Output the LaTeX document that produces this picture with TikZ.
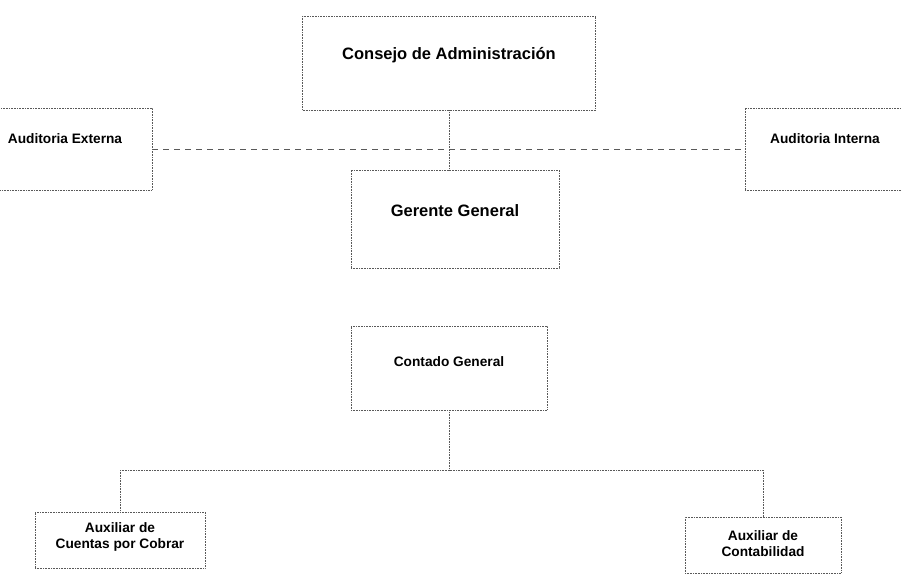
\documentclass[tikz,border=0pt]{standalone}
\usepackage{fontspec}
\setmainfont{Liberation Sans}
\begin{document}
\begin{tikzpicture}[x=1pt,y=-1pt,
  every node/.style={draw=black!65, densely dotted, line width=0.6pt, align=center, inner sep=0pt},
  big/.style={font=\fontsize{16.5}{20}\selectfont\bfseries, text height=12pt},
  small/.style={font=\fontsize{13.7}{16}\selectfont\bfseries, text height=9.8pt},
  link/.style={draw=black!65, densely dotted, line width=0.6pt}]
\useasboundingbox (0,0) rectangle (902,579);
\clip (0,0) rectangle (902,579);
\node[big, minimum width=293pt, minimum height=94pt, text depth=20pt] (consejo) at (449,63) {Consejo de Administración};
\node[big, minimum width=208pt, minimum height=98pt, text depth=18pt] (gerente) at (455,219) {Gerente General};
\node[small, minimum width=174pt, minimum height=82pt, text depth=20pt] (externa) at (65,149) {Auditoria Externa};
\node[small, minimum width=160pt, minimum height=82pt, text depth=20pt] (interna) at (825,149) {Auditoria Interna};
\node[small, minimum width=196pt, minimum height=84pt, text depth=12pt] (contado) at (449,368) {Contado General};
\node[small, minimum width=170pt, minimum height=56pt, text height=20pt] (cuentas) at (120,540) {Auxiliar de\\Cuentas por Cobrar};
\node[small, minimum width=156pt, minimum height=56pt, text height=23pt] (contab) at (763,545) {Auxiliar de\\Contabilidad};
\coordinate (bus) at (449,470);
% lineas
\draw[link] (consejo.south) -- (consejo.south |- gerente.north);
\draw[link, solid, dash pattern=on 6pt off 5pt] (externa.east) -- (interna.west);
\draw[link] (contado.south) -- (bus);
\draw[link] (cuentas.north |- bus) -- (contab.north |- bus);
\draw[link] (cuentas.north |- bus) -- (cuentas.north);
\draw[link] (contab.north |- bus) -- (contab.north);
\end{tikzpicture}
\end{document}
